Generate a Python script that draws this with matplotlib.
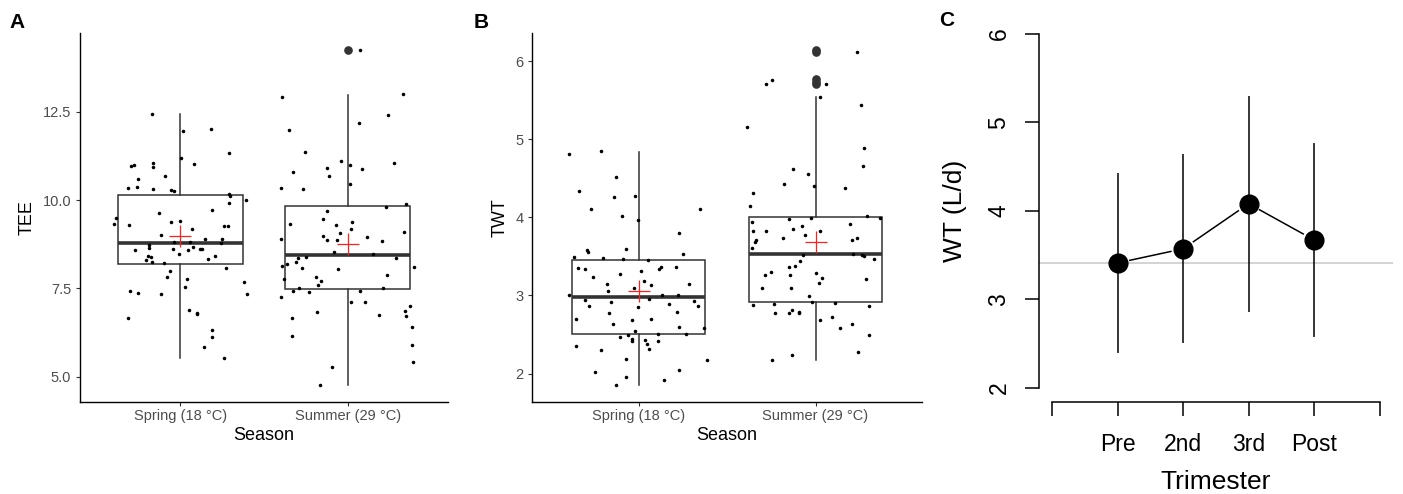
import matplotlib
matplotlib.use("Agg")
import matplotlib.pyplot as plt
import numpy as np

plt.rcParams['font.family'] = ['Liberation Sans', 'DejaVu Sans']

# ---------------- data ----------------
seasons = ["Spring (18 °C)", "Summer (29 °C)"]

# box statistics: [whisker low, Q1, median, Q3, whisker high]
tee_box_spring = [5.54, 8.19, 8.79, 10.14, 12.43]
tee_box_summer = [4.76, 7.49, 8.44, 9.82, 12.98]
tee_means = [8.98, 8.75]
tee_out_spring = []
tee_out_summer = [14.24]

twt_box_spring = [1.85, 2.51, 2.98, 3.45, 4.84]
twt_box_summer = [2.18, 2.91, 3.525, 4.00, 5.54]
twt_means = [3.06, 3.69]
twt_out_spring = []
twt_out_summer = [6.14, 6.11, 5.77, 5.73, 5.70]

# jittered observations (horizontal jitter offset, value)
tee_spring_jit = [-0.396, -0.382, -0.314, -0.314, -0.308, -0.300, -0.294, -0.280, -0.272, -0.262,
                  -0.254, -0.252, -0.207, -0.195, -0.189, -0.187, -0.177, -0.171, -0.167, -0.165,
                  -0.165, -0.161, -0.127, -0.115, -0.113, -0.099, -0.091, -0.078, -0.060, -0.058,
                  -0.056, -0.042, -0.036, -0.038, -0.006, -0.004, 0.004, 0.014, 0.026, 0.038,
                  0.046, 0.050, 0.060, 0.068, 0.076, 0.080, 0.099, 0.099, 0.115, 0.127,
                  0.143, 0.145, 0.163, 0.183, 0.187, 0.187, 0.187, 0.209, 0.241, 0.250,
                  0.258, 0.260, 0.274, 0.286, 0.288, 0.290, 0.294, 0.292, 0.380, 0.392,
                  0.396]
tee_spring = [9.31, 9.48, 10.33, 6.65, 9.29, 7.42, 10.97, 11.00, 8.59, 10.38,
              7.36, 10.60, 8.30, 8.42, 8.63, 8.73, 8.39, 8.24, 12.44, 11.05,
              10.94, 10.32, 9.64, 7.34, 9.02, 8.23, 10.69, 7.82, 8.00, 9.39,
              10.29, 8.62, 10.25, 8.82, 8.48, 9.42, 11.19, 11.94, 7.53, 7.76,
              8.59, 6.88, 8.80, 9.19, 8.67, 11.01, 6.81, 6.76, 8.60, 8.62,
              5.84, 8.89, 8.34, 12.00, 9.73, 6.31, 6.12, 8.42, 8.79, 8.91,
              5.54, 9.26, 8.08, 9.27, 9.92, 10.16, 10.12, 11.32, 7.69, 10.00,
              7.34]

tee_summer_jit = [-0.394, 0.332, 0.072, -0.348, 0.241, 0.066, -0.252, -0.042, 0.014, -0.123,
                  0.087, 0.280, -0.326, -0.113, -0.398, -0.264, 0.012, 0.350, 0.231, -0.125,
                  -0.342, -0.149, -0.068, 0.026, 0.022, -0.048, -0.149, -0.123, -0.064, 0.117,
                  0.205, 0.334, -0.398, -0.080, 0.151, 0.292, 0.396, -0.294, -0.247, -0.392,
                  -0.362, -0.310, -0.272, -0.058, -0.378, -0.189, -0.159, -0.175, 0.235, -0.324,
                  -0.290, -0.229, -0.400, 0.076, 0.213, 0.020, 0.103, 0.189, 0.370, 0.340,
                  0.350, -0.181, -0.332, -0.332, 0.386, 0.382, 0.392, -0.093, -0.167]
tee_summer = [12.92, 13.00, 14.24, 11.97, 12.40, 12.19, 11.37, 11.11, 10.99, 10.90,
              10.89, 11.05, 10.78, 10.69, 10.35, 10.30, 10.46, 9.89, 9.81, 9.70,
              9.32, 9.45, 9.28, 9.37, 9.19, 9.08, 8.99, 8.88, 8.88, 8.96,
              8.83, 9.09, 8.90, 8.52, 8.47, 8.37, 8.11, 8.36, 8.39, 8.13,
              8.19, 8.24, 8.08, 8.06, 7.76, 7.81, 7.70, 7.59, 7.87, 7.43,
              7.50, 7.39, 7.26, 7.43, 7.50, 7.11, 7.12, 6.75, 6.99, 6.85,
              6.73, 6.84, 6.65, 6.15, 6.40, 5.90, 5.40, 5.28, 4.76]

twt_spring_jit = [-0.393, -0.214, -0.128, -0.338, -0.139, -0.017, -0.269, -0.094, -0.002, 0.346,
                  0.231, -0.293, -0.288, -0.073, 0.250, -0.367, -0.203, -0.090, 0.055, -0.340,
                  -0.305, 0.126, 0.113, 0.211, 0.013, -0.259, -0.103, -0.180, 0.030, 0.068,
                  0.284, -0.028, -0.175, -0.393, 0.133, 0.222, -0.303, 0.058, -0.154, -0.280,
                  0.175, 0.312, -0.004, 0.338, -0.169, 0.220, -0.353, -0.036, 0.073, -0.145,
                  0.227, 0.370, -0.017, -0.107, -0.058, 0.109, 0.267, -0.038, -0.036, 0.034,
                  0.049, 0.109, 0.058, -0.353, -0.212, -0.071, 0.385, -0.246, 0.227, -0.073,
                  0.143, -0.128]
twt_spring = [4.81, 4.85, 4.52, 4.34, 4.26, 4.27, 4.10, 4.02, 3.96, 4.11,
              3.80, 3.58, 3.56, 3.59, 3.53, 3.49, 3.48, 3.47, 3.45, 3.35,
              3.34, 3.37, 3.34, 3.37, 3.31, 3.24, 3.27, 3.15, 3.18, 3.13,
              3.15, 3.09, 3.06, 3.00, 3.00, 3.00, 2.94, 2.96, 2.92, 2.87,
              2.89, 2.93, 2.85, 2.86, 2.77, 2.79, 2.70, 2.68, 2.70, 2.64,
              2.60, 2.58, 2.54, 2.47, 2.50, 2.51, 2.51, 2.44, 2.42, 2.43,
              2.38, 2.42, 2.31, 2.35, 2.30, 2.19, 2.17, 2.02, 2.05, 1.96,
              1.92, 1.85]

twt_summer_jit = [0.233, -0.282, -0.244, 0.062, 0.028, 0.256, -0.389, 0.276, 0.267, -0.126,
                  -0.045, -0.180, -0.006, 0.164, -0.355, -0.370, 0.289, 0.367, -0.152, -0.028,
                  -0.357, 0.197, -0.353, -0.282, -0.126, -0.077, 0.028, -0.335, -0.342, -0.182,
                  -0.062, 0.209, 0.235, -0.357, -0.068, 0.211, 0.263, 0.276, 0.331, -0.085,
                  -0.147, -0.115, -0.254, -0.284, -0.145, 0.000, 0.039, 0.021, 0.286, -0.301,
                  -0.137, -0.039, -0.019, -0.355, -0.233, 0.111, 0.305, -0.227, -0.150, -0.130,
                  -0.096, -0.092, 0.026, 0.096, 0.139, 0.205, 0.303, 0.241, -0.135, -0.248]
twt_summer = [6.12, 5.71, 5.76, 5.71, 5.54, 5.44, 5.15, 4.89, 4.66, 4.62,
              4.56, 4.43, 4.40, 4.38, 4.31, 4.14, 4.02, 3.99, 3.98, 3.99,
              3.94, 3.92, 3.83, 3.83, 3.85, 3.89, 3.82, 3.71, 3.69, 3.73,
              3.77, 3.71, 3.73, 3.61, 3.52, 3.53, 3.52, 3.50, 3.46, 3.44,
              3.36, 3.38, 3.30, 3.26, 3.26, 3.29, 3.22, 3.16, 3.21, 3.09,
              3.10, 2.99, 2.91, 2.88, 2.89, 2.90, 2.87, 2.78, 2.77, 2.82,
              2.79, 2.78, 2.68, 2.73, 2.58, 2.64, 2.49, 2.27, 2.24, 2.18]

# Panel C
trimesters = ["Pre", "2nd", "3rd", "Post"]
wt_mean = [3.41, 3.57, 4.08, 3.67]
wt_sd = [1.02, 1.07, 1.22, 1.10]
wt_reference = 3.41

# ---------------- figure ----------------
W, H = 1403, 494
fig = plt.figure(figsize=(W / 100, H / 100), dpi=100)

def fax(l, t, r, b):
    return fig.add_axes([l / W, 1 - b / H, (r - l) / W, (b - t) / H])

axA = fax(80, 33.3, 448, 401.7)
axB = fax(532.3, 33.3, 921.7, 401.7)
axC = fax(1039, 19.9, 1392.7, 401.7)

GREY20 = '#333333'
GREY30 = '#4D4D4D'


def stats_of(box, mean, fliers):
    return dict(whislo=box[0], q1=box[1], med=box[2], q3=box[3], whishi=box[4],
                mean=mean, fliers=fliers)


def box_panel(ax, boxes, means, outs, jits, vals, ylabel, ylim, yticks, yticklabels, ylab_x):
    stats = [stats_of(b, m, o) for b, m, o in zip(boxes, means, outs)]
    res = ax.bxp(stats, positions=[1, 2], widths=0.75, showcaps=False, showfliers=True,
                 showmeans=True, patch_artist=True,
                 boxprops=dict(facecolor='white', edgecolor=GREY20, linewidth=1.1),
                 medianprops=dict(color=GREY20, linewidth=2.6, solid_capstyle='butt'),
                 whiskerprops=dict(color=GREY20, linewidth=1.1),
                 flierprops=dict(marker='o', markerfacecolor=GREY20, markeredgecolor=GREY20,
                                 markersize=5.2),
                 meanprops=dict(marker='+', markeredgecolor='#FF2020', markersize=16.5,
                                markeredgewidth=0.9))
    for m in res['means']:
        m.set_zorder(5)
    for i, (jit, v) in enumerate(zip(jits, vals)):
        ax.scatter(np.asarray(jit) + i + 1, v, s=6.5, color='black', linewidths=0, zorder=4)
    ax.set_xlim(0.4, 2.6)
    ax.set_ylim(*ylim)
    ax.set_yticks(yticks)
    ax.set_yticklabels(yticklabels)
    ax.set_xticks([1, 2])
    ax.set_xticklabels(seasons)
    for s in ['top', 'right']:
        ax.spines[s].set_visible(False)
    for s in ['left', 'bottom']:
        ax.spines[s].set_linewidth(1.0)
        ax.spines[s].set_color('black')
    ax.tick_params(axis='both', length=2.9, width=0.8, color=GREY20, labelcolor=GREY30,
                   labelsize=10.5)
    ax.tick_params(axis='y', pad=3.5)
    ax.tick_params(axis='x', pad=2.2)
    ax.set_xlabel("Season", fontsize=13, color='black')
    ax.xaxis.set_label_coords(0.5, -0.0923)
    ax.xaxis.label.set_va('center')
    ax.set_ylabel(ylabel, fontsize=13, color='black')
    ax.yaxis.set_label_coords(ylab_x, 0.5)
    ax.yaxis.label.set_va('center')


box_panel(axA, [tee_box_spring, tee_box_summer], tee_means, [tee_out_spring, tee_out_summer],
          [tee_spring_jit, tee_summer_jit], [tee_spring, tee_summer], "TEE",
          (4.29, 14.72), [5, 7.5, 10, 12.5], ["5.0", "7.5", "10.0", "12.5"], -0.145)
box_panel(axB, [twt_box_spring, twt_box_summer], twt_means, [twt_out_spring, twt_out_summer],
          [twt_spring_jit, twt_summer_jit], [twt_spring, twt_summer], "TWT",
          (1.64, 6.355), [2, 3, 4, 5, 6], ["2", "3", "4", "5", "6"], -0.083)

# ---------------- Panel C ----------------
ax = axC
xs = np.arange(1, len(trimesters) + 1)
ax.set_xlim(-0.2, 5.2)
ax.set_ylim(1.84, 6.16)
ax.axhline(wt_reference, color='#D0D0D0', linewidth=1.3, zorder=0)
ax.errorbar(xs, wt_mean, yerr=wt_sd, fmt='none', ecolor='black', elinewidth=1.1, capsize=0,
            zorder=2)
pts = ax.transData.transform(np.column_stack([xs, wt_mean]))
gap = 12.5
inv = ax.transData.inverted()
for a, b in zip(pts[:-1], pts[1:]):
    d = b - a
    u = d / np.hypot(*d)
    seg = inv.transform(np.array([a + u * gap, b - u * gap]))
    ax.plot(seg[:, 0], seg[:, 1], color='black', linewidth=1.1, zorder=2)
ax.plot(xs, wt_mean, 'o', color='black', markersize=13.5, zorder=4)

for s in ['top', 'right']:
    ax.spines[s].set_visible(False)
ax.spines['left'].set_bounds(2, 6)
ax.spines['bottom'].set_bounds(0, 5)
for s in ['left', 'bottom']:
    ax.spines[s].set_linewidth(1.1)
ax.set_yticks([2, 3, 4, 5, 6])
ax.set_xticks(np.arange(0, 6))
ax.set_xticklabels([""] + trimesters + [""])
ax.tick_params(axis='both', length=9.8, width=1.1, labelsize=16.5, color='black',
               labelcolor='black')
ax.tick_params(axis='y', labelrotation=90, pad=19)
for lab in ax.get_yticklabels():
    lab.set_ha('center')
    lab.set_va('center')
ax.tick_params(axis='x', pad=21)
for lab in ax.get_xticklabels():
    lab.set_va('center')
ax.set_ylabel("WT (L/d)", fontsize=19)
ax.yaxis.set_label_coords(-0.2375, 0.5)
ax.yaxis.label.set_va('center')
ax.set_xlabel("Trimester", fontsize=19)
ax.xaxis.set_label_coords(0.5, -0.2103)
ax.xaxis.label.set_va('center')

# panel letters
for x, y, t in [(17, 22, "A"), (481, 22, "B"), (947, 21, "C")]:
    fig.text(x / W, 1 - y / H, t, fontsize=15, fontweight='bold', ha='center', va='center',
             family=['Liberation Sans Narrow', 'Liberation Sans', 'DejaVu Sans'])

fig.savefig("out.png", dpi=100)
